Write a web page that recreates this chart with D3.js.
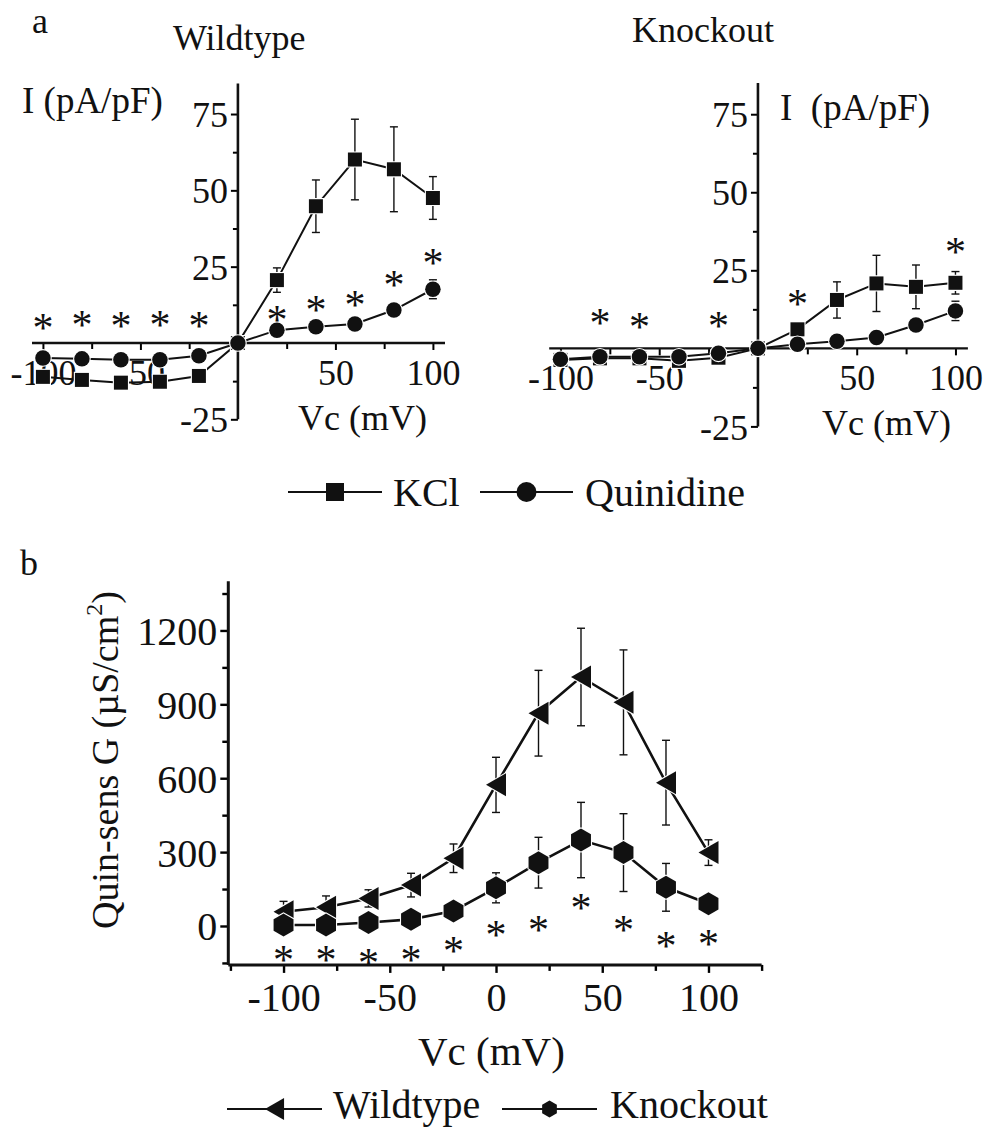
<!DOCTYPE html>
<html><head><meta charset="utf-8">
<script src="https://cdn.jsdelivr.net/npm/d3@7"></script>
<style>
body{margin:0;background:#fff;}
svg{display:block;font-family:"Liberation Serif","Times New Roman",serif;}
</style></head>
<body><svg id="c" width="987" height="1130"></svg>
<script>
// ---------- data ----------
const voltages = [-100,-80,-60,-40,-20,0,20,40,60,80,100];
// panel a, wildtype (pA/pF)
const wtKCl      = [-11.1,-12.1,-13.0,-12.7,-10.8,0,20.6,44.8,60.1,56.9,47.5];
const wtKClErr   = [1,1,1,1,1,0,4,8.6,13.2,13.9,7];
const wtQuin     = [-4.9,-5.2,-5.5,-5.5,-4.2,0,4.2,5.3,6.2,10.8,17.6];
const wtQuinErr  = [0.8,0.8,0.8,0.8,0.8,0,0.8,0.8,0.8,1,3.1];
const wtStarX    = [-100,-80,-60,-40,-20,20,40,60,80,100];
const wtStarY    = [7.5,8.3,8.1,8.3,8.1,10,13.5,15.1,21.7,28.7];
// panel a, knockout (pA/pF)
const koKCl      = [-3.7,-3.2,-3.2,-4.0,-3.0,0,6.1,15.5,20.8,19.7,21.0];
const koKClErr   = [0.8,0.8,0.8,0.8,0.8,0,1.5,5.8,9,7,3.6];
const koQuin     = [-3.5,-2.7,-2.7,-2.7,-1.6,0,1.3,2.3,3.5,7.5,12];
const koQuinErr  = [0.8,0.8,0.8,0.8,0.8,0,0.8,0.8,0.8,1,3.1];
const koStarX    = [-80,-60,-20,20,100];
const koStarY    = [10.7,9.3,9.6,16.8,33.3];
// panel a axis ticks
const aYTicks = [-25,25,50,75];
const aYMinor = [-12.5,12.5,37.5,62.5];
const aXTicks = [-100,-50,50,100];
const aXMinor = [-75,-25,25,75];
// panel b: quinidine-sensitive conductance (µS/cm²)
const gWildtype    = [58,76,112,166,275,573,864,1011,908,582,298];
const gWildtypeErr = [42,46,35,48,58,112,174,198,213,172,52];
const gKnockout    = [4,4,14,27,61,155,257,349,298,157,90];
const gKnockoutErr = [8,8,8,8,10,61,103,153,158,97,12];
const bStarX = [-100,-80,-60,-40,-20,0,20,40,60,80,100];
const bStarY = [-108,-108,-118,-108,-70,-3,17,106,17,-50,-41];
const bYTicks = [0,300,600,900,1200];
const bYMinor = [-150,150,450,750,1050,1350];
const bXTicks = [-100,-50,0,50,100];
const bXMinor = [-125,-75,-25,25,75,125];

// ---------- drawing ----------
const svg = d3.select("#c");
const FONT = 36;
const plain = d => String(d);   // hyphen-minus, as in the reference
const STAR = 42;

function star(g, x, y, xs, ys, size){
  g.selectAll(null).data(xs.map((v,i)=>[v,ys[i]])).enter().append("text")
    .attr("x", d=>x(d[0])).attr("y", d=>y(d[1]) + size*0.52)
    .attr("text-anchor","middle").attr("font-size", size).attr("fill","#111").text("*");
}

function markerPath(type, s){
  if(type==="square"){ return d3.symbol(d3.symbolSquare, s*s)(); }
  if(type==="circle"){ return d3.symbol(d3.symbolCircle, Math.PI*s*s/4)(); }
  if(type==="tri"){ const w=s*0.87, h=s; return `M${-w/2},0L${w/2},${-h/2}L${w/2},${h/2}Z`; }
  if(type==="hex"){ const r=s/2; let p=""; for(let k=0;k<6;k++){const a=Math.PI/2+k*Math.PI/3; p+=(k?"L":"M")+(r*Math.cos(a)).toFixed(2)+","+(-r*Math.sin(a)).toFixed(2);} return p+"Z"; }
}

function series(g, x, y, vals, errs, type, size, lw){
  const pts = voltages.map((v,i)=>({v, y:vals[i], e:errs[i]}));
  const eb = g.append("g").attr("stroke","#111").attr("stroke-width",1.4);
  pts.filter(p=>p.e>0).forEach(p=>{
    const cx=x(p.v), y1=y(p.y+p.e), y2=y(p.y-p.e);
    eb.append("line").attr("x1",cx).attr("x2",cx).attr("y1",y1).attr("y2",y2);
    eb.append("line").attr("x1",cx-4).attr("x2",cx+4).attr("y1",y1).attr("y2",y1);
    eb.append("line").attr("x1",cx-4).attr("x2",cx+4).attr("y1",y2).attr("y2",y2);
  });
  g.append("path").datum(pts)
    .attr("d", d3.line().x(p=>x(p.v)).y(p=>y(p.y)))
    .attr("fill","none").attr("stroke","#111").attr("stroke-width",lw);
  g.selectAll(null).data(pts).enter().append("path")
    .attr("transform", p=>`translate(${x(p.v)},${y(p.y)})`)
    .attr("d", markerPath(type,size))
    .attr("fill","#111").attr("stroke","#fff").attr("stroke-width",2.2)
    .attr("paint-order","stroke");
}

function ivPanel(o){
  const g = svg.append("g");
  const x = d3.scaleLinear().domain(o.xDom).range(o.xRange);
  const y = d3.scaleLinear().domain([-25,85]).range(o.yRange);
  const yAx = g.append("g").attr("transform",`translate(${x(0)},0)`)
    .call(d3.axisLeft(y).tickValues(aYTicks).tickSize(7).tickPadding(3).tickFormat(plain));
  yAx.select(".domain").remove();
  yAx.selectAll(".tick text").attr("font-size",FONT).attr("font-family","Liberation Serif").attr("fill","#111").attr("dy","0.35em");
  yAx.selectAll(".tick line").attr("stroke-width",2);
  g.append("g").attr("transform",`translate(${x(0)},0)`)
    .call(d3.axisLeft(y).tickValues(aYMinor).tickSize(5).tickFormat(""))
    .call(a=>a.select(".domain").remove()).selectAll("line").attr("stroke-width",2);
  g.append("line").attr("x1",x(0)).attr("x2",x(0)).attr("y1",y(85)).attr("y2",y(-25)).attr("stroke","#111").attr("stroke-width",2.6);
  const xAx = g.append("g").attr("transform",`translate(0,${y(0)})`)
    .call(d3.axisBottom(x).tickValues(aXTicks).tickSize(7).tickPadding(8).tickFormat(plain));
  xAx.select(".domain").remove();
  xAx.selectAll(".tick text").attr("font-size",FONT).attr("font-family","Liberation Serif").attr("fill","#111").attr("dy","0.75em");
  xAx.selectAll(".tick line").attr("stroke-width",2);
  g.append("g").attr("transform",`translate(0,${y(0)})`)
    .call(d3.axisBottom(x).tickValues(aXMinor).tickSize(6).tickFormat(""))
    .call(a=>a.select(".domain").remove()).selectAll("line").attr("stroke-width",2);
  g.append("line").attr("x1",x(o.xDom[0])).attr("x2",x(o.xDom[1])).attr("y1",y(0)).attr("y2",y(0)).attr("stroke","#111").attr("stroke-width",2.4);
  g.append("text").attr("x",o.yLab[0]).attr("y",o.yLab[1]).attr("font-size",37).attr("fill","#111").attr("xml:space","preserve").text(o.yLabText);
  g.append("text").attr("x",o.xLab[0]).attr("y",o.xLab[1]).attr("font-size",FONT).attr("fill","#111").text("Vc (mV)");
  g.append("text").attr("x",o.title[0]).attr("y",o.title[1]).attr("font-size",FONT).attr("fill","#111").text(o.titleText);
  series(g, x, y, o.kcl, o.kclErr, "square", 14, 2);
  series(g, x, y, o.quin, o.quinErr, "circle", 15.5, 2);
  star(g, x, y, o.starX, o.starY, STAR);
}

svg.append("text").attr("x",32).attr("y",33).attr("font-size",FONT).attr("fill","#111").text("a");
ivPanel({xDom:[-105.6,106.2], xRange:[32,445], yRange:[419.3,83.5],
  kcl:wtKCl, kclErr:wtKClErr, quin:wtQuin, quinErr:wtQuinErr, starX:wtStarX, starY:wtStarY,
  yLab:[22,113], yLabText:"I (pA/pF)", xLab:[298,430], title:[173,50], titleText:"Wildtype"});
ivPanel({xDom:[-105.7,106.3], xRange:[549.2,967.9], yRange:[426.4,83],
  kcl:koKCl, kclErr:koKClErr, quin:koQuin, quinErr:koQuinErr, starX:koStarX, starY:koStarY,
  yLab:[780,120], yLabText:"I  (pA/pF)", xLab:[822,435], title:[632,42], titleText:"Knockout"});

function legendItem(x1,x2,yy,type,size,label,tx,ty){
  svg.append("line").attr("x1",x1).attr("x2",x2).attr("y1",yy).attr("y2",yy).attr("stroke","#111").attr("stroke-width",1.8);
  svg.append("path").attr("transform",`translate(${(x1+x2)/2},${yy})`).attr("d",markerPath(type,size)).attr("fill","#111");
  svg.append("text").attr("x",tx).attr("y",ty).attr("font-size",40).attr("fill","#111").text(label);
}
legendItem(288,382,492,"square",18,"KCl",393,506);
legendItem(480,573,492,"circle",20,"Quinidine",585,506);

// ---------- panel b ----------
svg.append("text").attr("x",20).attr("y",575).attr("font-size",FONT).attr("fill","#111").text("b");
const gb = svg.append("g");
const xb = d3.scaleLinear().domain([-126,125]).range([228.3,761.6]);
const yb = d3.scaleLinear().domain([-158,1400]).range([964.9,581.2]);
const byAx = gb.append("g").attr("transform",`translate(${xb(-126)},0)`)
  .call(d3.axisLeft(yb).tickValues(bYTicks).tickSize(8).tickPadding(3).tickFormat(plain));
byAx.select(".domain").remove();
byAx.selectAll(".tick text").attr("font-size",40).attr("font-family","Liberation Serif").attr("fill","#111").attr("dy","0.35em");
byAx.selectAll(".tick line").attr("stroke-width",2.4);
gb.append("g").attr("transform",`translate(${xb(-126)},0)`)
  .call(d3.axisLeft(yb).tickValues(bYMinor).tickSize(6).tickFormat(""))
  .call(a=>a.select(".domain").remove()).selectAll("line").attr("stroke-width",2.4);
gb.append("line").attr("x1",xb(-126)).attr("x2",xb(-126)).attr("y1",yb(1400)).attr("y2",yb(-158)).attr("stroke","#111").attr("stroke-width",3);
const bxAx = gb.append("g").attr("transform",`translate(0,${yb(-158)})`)
  .call(d3.axisBottom(xb).tickValues(bXTicks).tickSize(8).tickPadding(8).tickFormat(plain));
bxAx.select(".domain").remove();
bxAx.selectAll(".tick text").attr("font-size",40).attr("font-family","Liberation Serif").attr("fill","#111").attr("dy","0.75em");
bxAx.selectAll(".tick line").attr("stroke-width",2.4);
gb.append("g").attr("transform",`translate(0,${yb(-158)})`)
  .call(d3.axisBottom(xb).tickValues(bXMinor).tickSize(6).tickFormat(""))
  .call(a=>a.select(".domain").remove()).selectAll("line").attr("stroke-width",2.4);
gb.append("line").attr("x1",xb(-126)).attr("x2",xb(125)).attr("y1",yb(-158)).attr("y2",yb(-158)).attr("stroke","#111").attr("stroke-width",3);
const yl = gb.append("text").attr("transform","translate(118,760) rotate(-90)").attr("text-anchor","middle").attr("font-size",38).attr("fill","#111");
yl.append("tspan").text("Quin-sens G (µS/cm");
yl.append("tspan").attr("font-size",24).attr("dy",-16).text("2");
yl.append("tspan").attr("dy",16).text(")");
gb.append("text").attr("x",418).attr("y",1065).attr("font-size",41).attr("fill","#111").text("Vc (mV)");
series(gb, xb, yb, gWildtype, gWildtypeErr, "tri", 23, 2.6);
series(gb, xb, yb, gKnockout, gKnockoutErr, "hex", 23, 2.6);
star(gb, xb, yb, bStarX, bStarY, STAR);
legendItem(227,322,1109,"tri",22,"Wildtype",333,1118);
legendItem(502,597,1109,"hex",17,"Knockout",610,1118);
</script></body></html>
